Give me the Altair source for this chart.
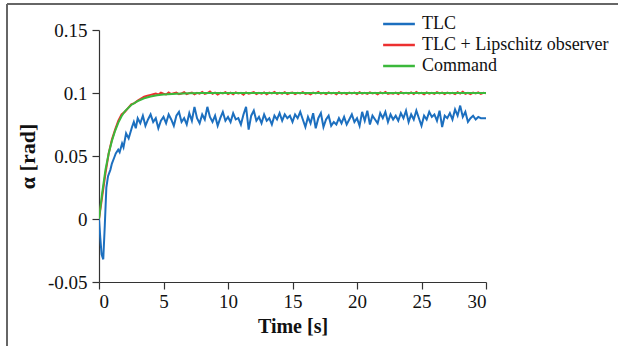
import altair as alt
import pandas as pd

# ---------------- data ----------------
SERIES = ["TLC", "TLC + Lipschitz observer", "Command"]
COLORS = ["#1c6fbf", "#ec3030", "#3bb83b"]

# TLC (blue): transient part (irregular times) then steady part every 0.2 s from 3.0 s
TLC_T_START = [0.0, 0.1, 0.2, 0.33, 0.45, 0.57, 0.7, 0.88, 1.0, 1.19, 1.3, 1.49,
               1.6, 1.79, 1.9, 2.1, 2.3, 2.56, 2.7, 2.85]
TLC_V_START = [0.000, -0.015, -0.028, -0.032, -0.005, 0.025, 0.034, 0.039, 0.044,
               0.049, 0.052, 0.055, 0.053, 0.060, 0.057, 0.068, 0.064, 0.073, 0.077, 0.072]
TLC_STEADY_T0 = 3.0
STEP = 0.2
TLC_V_STEADY = [
    0.080, 0.076, 0.082, 0.074, 0.079,
    0.083, 0.077, 0.080, 0.072, 0.078,
    0.081, 0.076, 0.083, 0.079, 0.074,
    0.082, 0.085, 0.077, 0.080, 0.075,
    0.084, 0.078, 0.089, 0.080, 0.076,
    0.083, 0.079, 0.089, 0.081, 0.077,
    0.082, 0.074, 0.080, 0.085, 0.078,
    0.081, 0.077, 0.084, 0.079, 0.080,
    0.075, 0.083, 0.089, 0.071, 0.082,
    0.086, 0.078, 0.081, 0.076, 0.083,
    0.078, 0.080, 0.075, 0.082, 0.079,
    0.084, 0.078, 0.083, 0.080, 0.082,
    0.077, 0.083, 0.080, 0.085, 0.079,
    0.073, 0.081, 0.076, 0.084, 0.072,
    0.080, 0.084, 0.073, 0.079, 0.082,
    0.074, 0.077, 0.075, 0.080, 0.076,
    0.081, 0.075, 0.079, 0.083, 0.077,
    0.080, 0.074, 0.085, 0.078, 0.086,
    0.075, 0.082, 0.079, 0.076, 0.084,
    0.080, 0.085, 0.077, 0.083, 0.079,
    0.082, 0.078, 0.084, 0.080, 0.086,
    0.077, 0.083, 0.079, 0.086, 0.080,
    0.074, 0.082, 0.079, 0.085, 0.081,
    0.083, 0.078, 0.086, 0.073, 0.082,
    0.080, 0.084, 0.079, 0.087, 0.082,
    0.090, 0.081, 0.085, 0.077, 0.080,
    0.082, 0.079, 0.081, 0.080, 0.080, 0.080,
]

# TLC + Lipschitz observer (red)
OBS_T_START = [0.0, 0.25, 0.5, 0.75, 1.0, 1.25, 1.5, 1.75, 2.0, 2.25, 2.5, 2.75,
               3.0, 3.25, 3.5, 3.75]
OBS_V_START = [0.000, 0.018, 0.036, 0.052, 0.063, 0.071, 0.078, 0.083, 0.085,
               0.088, 0.091, 0.092, 0.094, 0.0955, 0.097, 0.0978]
OBS_STEADY_T0 = 4.0
OBS_V_STEADY = [
    0.0985, 0.0990, 0.0995, 0.0988, 0.1002,
    0.0994, 0.0988, 0.1005, 0.0992, 0.0998,
    0.1003, 0.0990, 0.0996, 0.1006, 0.0991,
    0.0999, 0.1004, 0.0989, 0.1001, 0.0995,
    0.1008, 0.0993, 0.1000, 0.1012, 0.0994,
    0.1003, 0.0988, 0.1001, 0.0996, 0.1006,
    0.0992, 0.1002, 0.0990, 0.1004, 0.0996,
    0.1001, 0.0987, 0.1005, 0.0994, 0.1000,
    0.1007, 0.0992, 0.1001, 0.0995, 0.1004,
    0.0990, 0.1003, 0.0997, 0.1009, 0.0993,
    0.1001, 0.0995, 0.1006, 0.0991, 0.1000,
    0.1004, 0.0992, 0.1002, 0.0996, 0.1007,
    0.0993, 0.1000, 0.0989, 0.1003, 0.0997,
    0.1009, 0.0994, 0.1001, 0.0991, 0.1005,
    0.0996, 0.1002, 0.0990, 0.1006, 0.0995,
    0.1001, 0.0992, 0.1004, 0.0997, 0.1003,
    0.0991, 0.1007, 0.0995, 0.1002, 0.0993,
    0.1005, 0.0997, 0.1001, 0.0990, 0.1004,
    0.0996, 0.1008, 0.0993, 0.1000, 0.0995,
    0.1003, 0.0991, 0.1006, 0.0997, 0.1001,
    0.0994, 0.1004, 0.0992, 0.1009, 0.0996,
    0.1001, 0.0990, 0.1005, 0.0995, 0.1002,
    0.0993, 0.1006, 0.0997, 0.1003, 0.0991,
    0.1004, 0.0996, 0.1001, 0.0992, 0.1007,
    0.0995, 0.1010, 0.0994, 0.1002, 0.0991,
    0.1003, 0.0996, 0.1005, 0.0993, 0.1001, 0.0998,
]

# Command (green)
CMD_T = [0.0, 0.25, 0.5, 0.75, 1.0, 1.25, 1.5, 1.75, 2.0, 2.5, 3.0, 3.5, 4.0,
         4.5, 5.0, 6.0, 7.0, 8.0, 30.0]
CMD_V = [0.000, 0.021, 0.039, 0.052, 0.062, 0.070, 0.0765, 0.0815, 0.0855, 0.0905,
         0.0935, 0.0958, 0.0972, 0.0982, 0.0988, 0.0995, 0.0998, 0.1000, 0.1000]

X_TICKS = [0, 5, 10, 15, 20, 25, 30]
Y_TICKS = [-0.05, 0, 0.05, 0.1, 0.15]
Y_TICK_LABELS = ["-0.05", "0", "0.05", "0.1", "0.15"]

# ---------------- build table ----------------
rows = []
for t, v in zip(TLC_T_START, TLC_V_START):
    rows.append((t, v, SERIES[0]))
for i, v in enumerate(TLC_V_STEADY):
    rows.append((round(TLC_STEADY_T0 + i * STEP, 3), v, SERIES[0]))
for t, v in zip(OBS_T_START, OBS_V_START):
    rows.append((t, v, SERIES[1]))
for i, v in enumerate(OBS_V_STEADY):
    rows.append((round(OBS_STEADY_T0 + i * STEP, 3), v, SERIES[1]))
for t, v in zip(CMD_T, CMD_V):
    rows.append((t, v, SERIES[2]))
df = pd.DataFrame(rows, columns=["t", "v", "s"])
df["k"] = df["s"].map({s: i for i, s in enumerate(SERIES)})

ylabel_expr = " : ".join(
    f"abs(datum.value - ({val})) < 1e-6 ? '{lab}'" for val, lab in zip(Y_TICKS, Y_TICK_LABELS)
) + " : ''"

FONT = "Liberation Serif"

lines = alt.Chart(df).mark_line(strokeWidth=2, clip=True).encode(
    x=alt.X("t:Q", scale=alt.Scale(domain=[0, 30], nice=False, zero=False),
            axis=alt.Axis(values=X_TICKS, title="Time [s]", labelPadding=3, titlePadding=5,
                          titleFontSize=20)),
    y=alt.Y("v:Q", scale=alt.Scale(domain=[-0.05, 0.15], nice=False, zero=False),
            axis=alt.Axis(values=Y_TICKS, labelExpr=ylabel_expr, title="α [rad]",
                          labelPadding=5, titlePadding=8, titleFontSize=22)),
    color=alt.Color("s:N", scale=alt.Scale(domain=SERIES, range=COLORS),
                    legend=alt.Legend(title=None, orient="none", legendX=291, legendY=-15,
                                      symbolType="M-3,0H3", symbolSize=112,
                                      symbolStrokeWidth=2.5, labelOffset=14,
                                      labelFont=FONT, labelFontSize=18, labelColor="#111",
                                      labelLimit=400, rowPadding=3, padding=0)),
    detail="k:O",
)

frame_df = pd.DataFrame({"a": [0]})
top_rule = alt.Chart(frame_df).mark_rule(color="#666", strokeWidth=2).encode(
    x=alt.value(-92), x2=alt.value(519), y=alt.value(-26))
left_rule = alt.Chart(frame_df).mark_rule(color="#666", strokeWidth=2).encode(
    x=alt.value(-92), y=alt.value(-26), y2=alt.value(316))

chart = alt.layer(lines, top_rule, left_rule).properties(
    width=387, height=252,
    autosize="none",
    padding={"left": 99, "top": 30, "right": 132, "bottom": 64},
    background="white",
).configure_view(stroke=None).configure_axis(
    grid=False,
    domainColor="#333", domainWidth=1.2,
    tickColor="#333", tickWidth=1.2, tickSize=7,
    labelFont=FONT, labelFontSize=19, labelColor="#111",
    titleFont=FONT, titleFontWeight="bold", titleColor="#111",
)

chart.save("out.html", embed_options={"renderer": "svg", "actions": False})
